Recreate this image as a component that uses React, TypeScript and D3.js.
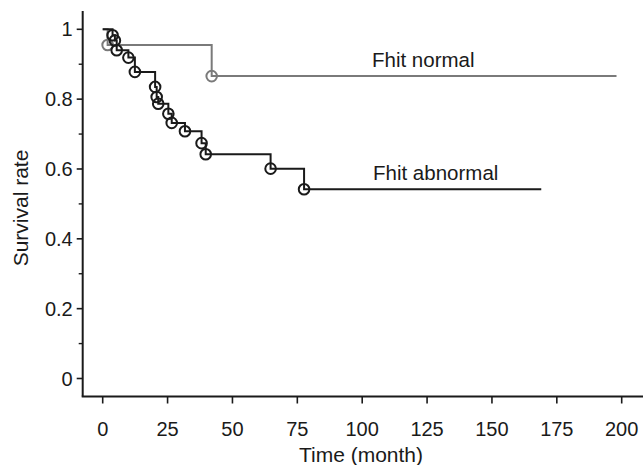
import React, { useEffect, useRef } from 'react';
import * as d3 from 'd3';

// Kaplan-Meier steps (time in months, survival rate)
const normalTimes = [0, 1.9, 42];
const normalRates = [1, 0.955, 0.866];
const normalEnd = 198;

const abnormalTimes = [0, 3.8, 4.7, 5.4, 9.9, 12.4, 20.2, 20.8, 21.4, 25.3, 26.6, 31.7, 38.1, 39.7, 64.7, 77.6];
const abnormalRates = [1, 0.983, 0.968, 0.94, 0.919, 0.878, 0.835, 0.806, 0.787, 0.758, 0.732, 0.708, 0.674, 0.642, 0.601, 0.542];
const abnormalEnd = 169;

const xTicks = [0, 25, 50, 75, 100, 125, 150, 175, 200];
const yTicks = [0, 0.2, 0.4, 0.6, 0.8, 1];
const yMinorTicks = [0.1, 0.3, 0.5, 0.7, 0.9];

const W = 643;
const H = 465;
const FONT = 'Liberation Sans, Arial, sans-serif';

const App = () => {
  const svgRef = useRef<SVGSVGElement | null>(null);

  useEffect(() => {
    if (!svgRef.current) return;
    const svg = d3.select(svgRef.current);
    svg.selectAll('*').remove();

    const x = d3.scaleLinear().domain([0, 200]).range([102.7, 621.7]);
    const y = d3.scaleLinear().domain([0, 1]).range([378.5, 29.3]);
    const axisX = 82.7;
    const axisY = 396.5;

    const ink = '#1a1a1a';

    // axes lines
    svg.append('line')
      .attr('x1', axisX).attr('x2', axisX)
      .attr('y1', 11).attr('y2', axisY)
      .attr('stroke', ink).attr('stroke-width', 2);
    svg.append('line')
      .attr('x1', axisX - 1).attr('x2', W)
      .attr('y1', axisY).attr('y2', axisY)
      .attr('stroke', ink).attr('stroke-width', 2);

    // y ticks
    svg.selectAll('.ytick')
      .data(yTicks)
      .join('line')
      .attr('x1', axisX - 6).attr('x2', axisX)
      .attr('y1', d => y(d)).attr('y2', d => y(d))
      .attr('stroke', ink).attr('stroke-width', 1.6);
    svg.selectAll('.yminor')
      .data(yMinorTicks)
      .join('line')
      .attr('x1', axisX - 4).attr('x2', axisX)
      .attr('y1', d => y(d)).attr('y2', d => y(d))
      .attr('stroke', ink).attr('stroke-width', 1.4);
    svg.selectAll('.ylabel')
      .data(yTicks)
      .join('text')
      .attr('x', axisX - 10)
      .attr('y', d => y(d))
      .attr('dy', '0.35em')
      .attr('text-anchor', 'end')
      .attr('font-family', FONT)
      .attr('font-size', 20)
      .attr('fill', ink)
      .text(d => d3.format('')(d));

    // x ticks
    svg.selectAll('.xtick')
      .data(xTicks)
      .join('line')
      .attr('x1', d => x(d)).attr('x2', d => x(d))
      .attr('y1', axisY).attr('y2', axisY + 7)
      .attr('stroke', ink).attr('stroke-width', 1.6);
    svg.selectAll('.xlabel')
      .data(xTicks)
      .join('text')
      .attr('x', d => x(d))
      .attr('y', axisY + 39)
      .attr('text-anchor', 'middle')
      .attr('font-family', FONT)
      .attr('font-size', 20)
      .attr('fill', ink)
      .text(d => d);

    // axis titles
    svg.append('text')
      .attr('x', 361).attr('y', 462)
      .attr('text-anchor', 'middle')
      .attr('font-family', FONT)
      .attr('font-size', 21)
      .attr('fill', ink)
      .text('Time (month)');
    svg.append('text')
      .attr('transform', `translate(28, 208) rotate(-90)`)
      .attr('text-anchor', 'middle')
      .attr('font-family', FONT)
      .attr('font-size', 21)
      .attr('fill', ink)
      .text('Survival rate');

    const line = d3.line<[number, number]>()
      .x(d => x(d[0]))
      .y(d => y(d[1]))
      .curve(d3.curveStepAfter);

    const drawCurve = (times: number[], rates: number[], end: number, color: string) => {
      const pts: [number, number][] = times.map((t, i) => [t, rates[i]]);
      pts.push([end, rates[rates.length - 1]]);
      svg.append('path')
        .attr('d', line(pts))
        .attr('fill', 'none')
        .attr('stroke', color)
        .attr('stroke-width', 2);
      const marks = times.slice(1).map((t, i) => [t, rates[i + 1]] as [number, number]);
      svg.append('g')
        .selectAll('circle')
        .data(marks)
        .join('circle')
        .attr('cx', d => x(d[0]))
        .attr('cy', d => y(d[1]))
        .attr('r', 5.3)
        .attr('fill', 'none')
        .attr('stroke', color)
        .attr('stroke-width', 2);
    };

    drawCurve(normalTimes, normalRates, normalEnd, '#7a7a7a');
    drawCurve(abnormalTimes, abnormalRates, abnormalEnd, ink);

    // curve labels
    svg.append('text')
      .attr('x', 372).attr('y', 67)
      .attr('font-family', FONT)
      .attr('font-size', 20.5)
      .attr('fill', ink)
      .text('Fhit normal');
    svg.append('text')
      .attr('x', 373).attr('y', 180)
      .attr('font-family', FONT)
      .attr('font-size', 20.5)
      .attr('fill', ink)
      .text('Fhit abnormal');
  }, []);

  return (
    <div style={{ position: 'absolute', left: 0, top: 0, width: W, height: H, background: '#fff' }}>
      <svg ref={svgRef} width={W} height={H} style={{ display: 'block' }} />
    </div>
  );
};

export default App;
